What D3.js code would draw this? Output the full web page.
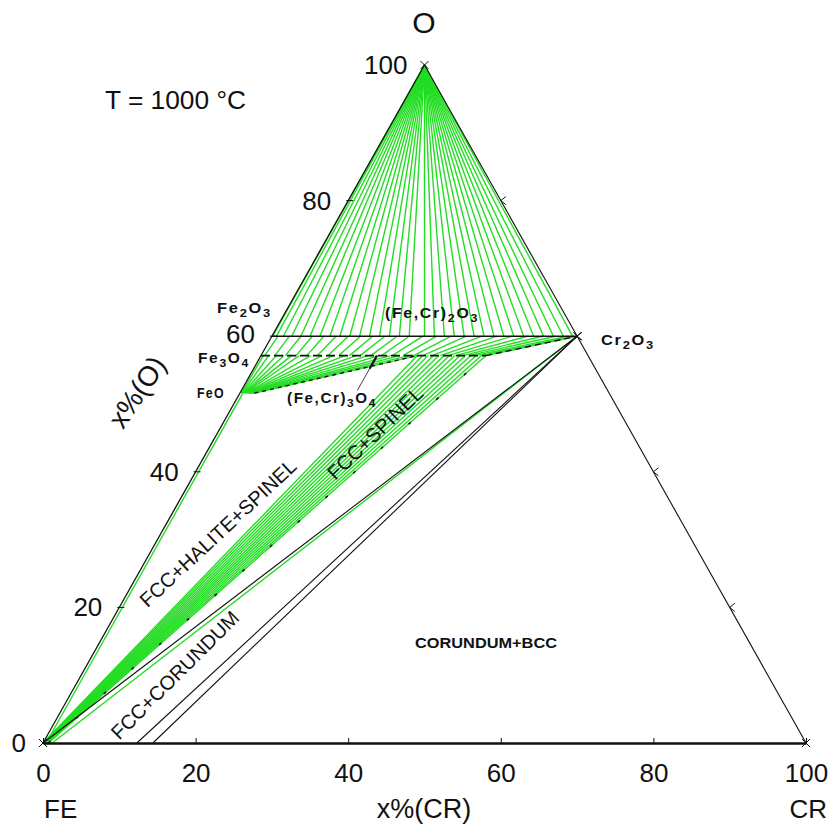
<!DOCTYPE html>
<html><head><meta charset="utf-8">
<script src="https://cdn.jsdelivr.net/npm/d3@7"></script>
<style>
html,body{margin:0;padding:0;background:#fff}
svg text{font-family:"Liberation Sans",Arial,sans-serif;fill:#111}
</style>
</head><body>
<svg id="chart" width="831" height="825"></svg>
<script>
// ---------------- data (compositions in mole %, Cr and O) ----------------
const temperatureLabel = "T = 1000 °C";
const oTicks = [0, 20, 40, 60, 80, 100];
const crTicks = [0, 20, 40, 60, 80, 100];
const oCorundum = 60;      // (Fe,Cr)2O3
const oSpinel = 57.14;     // (Fe,Cr)3O4
const oHalite = 51.6;      // FeO
const crCr2O3 = 40;        // Cr2O3 end of corundum line
const spinelCrMax = 29.5;  // spinel in FCC+SPINEL+CORUNDUM
const spinelCrS1 = 20.5;   // spinel in FCC+HALITE+SPINEL
const haliteCrMax = 1.9;   // halite in FCC+HALITE+SPINEL
const fccSpinelCrMax = 0.7;
const fccBccCr = [12.3, 14.4]; // FCC / BCC in equilibrium with corundum
// corundum + gas tie lines: Cr% of corundum at O = 60 (fan from O corner)
const corundumGasTies = [0.1, 0.6, 1.5, 2.6, 3.8, 5.0, 6.3, 7.6, 8.9, 10.2, 11.5, 12.8, 14.1, 15.4,
  16.7, 18.0, 20.0, 21.3, 22.6, 23.9, 25.2, 26.5, 27.8, 29.1, 30.4, 31.7, 33.0, 34.3, 35.6, 36.9, 38.2, 39.4];
// spinel + corundum tie lines: [Cr% spinel, Cr% corundum]
const spinelCorundumTies = [[0.5,0.8],[1.8,2.3],[3.2,3.8],[4.6,5.3],[6,6.8],[7.4,8.4],[8.8,10],[10.2,11.6],
  [11.6,13.2],[13,14.8],[14.4,16.4],[15.8,18],[17.2,19.8],[18.6,21.6],[20,23.5],[21.2,25.5],[22.4,27.5],
  [23.5,29.5],[24.5,31.5],[25.5,33.5],[26.4,35.5],[27.2,37.2],[28,38.8],[28.8,39.6],[29.5,40]];
// halite + spinel tie lines: [Cr% halite, Cr% spinel]
const haliteSpinelTies = [[0.2,0.3],[0.3,1],[0.4,2],[0.5,3],[0.6,4],[0.7,5],[0.8,6.5],[0.9,8],[1,9.5],
  [1.1,11],[1.2,12.5],[1.3,14],[1.4,15.5],[1.5,17],[1.6,18.2],[1.75,19.4],[1.9,20.5]];
// FCC + spinel tie lines: [Cr% fcc, Cr% spinel]
const fccSpinelTies = [[0,20.5],[0.05,21.2],[0.1,21.9],[0.15,22.6],[0.2,23.3],[0.25,24],[0.3,24.7],
  [0.35,25.4],[0.4,26.1],[0.45,26.8],[0.5,27.5],[0.55,28.2],[0.6,28.9],[0.7,29.5]];
// FCC + corundum tie lines: Cr% of fcc (to Cr2O3)
const fccCorundumTies = [1.2];
// FCC + halite tie line along the Fe-O edge: Cr% fcc / halite
const fccHaliteTies = [0.4];

// ---------------- scales ----------------
const svg = d3.select("#chart");
const xs = d3.scaleLinear().domain([0, 100]).range([43, 806]);
const ys = d3.scaleLinear().domain([0, 100]).range([743, 65]);
const P = (cr, o) => [xs(cr + o / 2), ys(o)];
const line = d3.line();
const GREEN = "#22dd22";

const gGreen = svg.append("g").attr("fill", "none").attr("stroke", GREEN).attr("stroke-width", 1.4);
function seg(g, a, b) { return g.append("path").attr("d", line([P(a[0], a[1]), P(b[0], b[1])])); }

corundumGasTies.forEach(c => seg(gGreen, [0, 100], [c, oCorundum]));
spinelCorundumTies.forEach(([s, c]) => seg(gGreen, [s, oSpinel], [c, oCorundum]));
haliteSpinelTies.forEach(([h, s]) => seg(gGreen, [h, oHalite], [s, oSpinel]));
fccSpinelTies.forEach(([f, s]) => seg(gGreen, [f, 0], [s, oSpinel]));
fccCorundumTies.forEach(f => seg(gGreen, [f, 0], [crCr2O3, oCorundum]));
fccHaliteTies.forEach(f => seg(gGreen, [f, 0], [f, oHalite]));

// ---------------- black phase boundaries ----------------
const gB = svg.append("g").attr("fill", "none").attr("stroke", "#111");
seg(gB, [0, oCorundum], [crCr2O3, oCorundum]).attr("stroke-width", 1.4);
seg(gB, [0, oSpinel], [spinelCrMax, oSpinel]).attr("stroke-width", 1.8).attr("stroke-dasharray", "9,4");
seg(gB, [haliteCrMax, oHalite], [spinelCrS1, oSpinel]).attr("stroke-width", 1.4).attr("stroke-dasharray", "4,4");
seg(gB, [spinelCrMax, oSpinel], [crCr2O3, oCorundum]).attr("stroke-width", 1.4).attr("stroke-dasharray", "6,4");
seg(gB, [fccSpinelCrMax, 0], [spinelCrMax, oSpinel]).attr("stroke-width", 1.6).attr("stroke-dasharray", "3,34");
seg(gB, [0, 0], [crCr2O3, oCorundum]).attr("stroke-width", 1.1);
fccBccCr.forEach(c => seg(gB, [c, 0], [crCr2O3, oCorundum]).attr("stroke-width", 1.1));
// pointer for spinel label
seg(gB, [15.2, oSpinel], [15.2, 55.2]).attr("stroke-width", 2.2);
seg(gB, [15.2, 55.2], [15.2, 52.0]).attr("stroke-width", 0.8);

// ---------------- triangle frame ----------------
const gF = svg.append("g").attr("fill", "none").attr("stroke", "#111");
seg(gF, [0, 0], [0, 100]).attr("stroke-width", 1.3);
seg(gF, [100, 0], [0, 100]).attr("stroke-width", 1.1);

// base axis (x%(CR))
const axis = d3.axisBottom(xs).tickValues(crTicks).tickSize(-5).tickSizeOuter(0).tickPadding(21);
const gAx = svg.append("g").attr("transform", `translate(0,${ys(0)})`).call(axis);
gAx.select(".domain").attr("stroke", "#111").attr("stroke-width", 2.6);
gAx.selectAll(".tick line").attr("stroke", "#111").attr("stroke-width", 1);
gAx.selectAll(".tick text").attr("font-size", 26).attr("font-family", null).attr("fill", "#111");

// left edge ticks and labels (x%(O))
const gT = svg.append("g").attr("stroke", "#111").attr("stroke-width", 1).attr("fill", "none");
oTicks.forEach(o => {
  const [x, y] = P(0, o);
  if (o > 0 && o < 100) gT.append("line").attr("x1", x - 2).attr("x2", x + 5).attr("y1", y).attr("y2", y);
  svg.append("text").attr("x", x - 17).attr("y", y + (o === 60 ? 7 : 9)).attr("text-anchor", "end")
    .attr("font-size", 26).text(o);
});
// right edge ticks "<"
oTicks.filter(o => o > 0 && o < 100).forEach(o => {
  const [x, y] = P(100 - o, o);
  gT.append("path").attr("d", `M${x + 5},${y - 4}L${x},${y}L${x + 5},${y + 4}`);
});
// corner marks
[[0, 100], [0, 0], [100, 0], [crCr2O3, oCorundum]].forEach(([c, o]) => {
  const [x, y] = P(c, o);
  gT.append("path").attr("d", `M${x - 4},${y - 4}L${x + 4},${y + 4}M${x + 4},${y - 4}L${x - 4},${y + 4}`);
});

// ---------------- texts ----------------
svg.append("text").attr("x", 424).attr("y", 33).attr("text-anchor", "middle").attr("font-size", 30).text("O");
svg.append("text").attr("x", 105).attr("y", 109).attr("font-size", 25)
  .attr("textLength", 141).attr("lengthAdjust", "spacingAndGlyphs").text(temperatureLabel);
svg.append("text").attr("x", 44).attr("y", 818).attr("font-size", 26).text("FE");
svg.append("text").attr("x", 424).attr("y", 818).attr("text-anchor", "middle").attr("font-size", 27).text("x%(CR)");
svg.append("text").attr("x", 827).attr("y", 818).attr("text-anchor", "end").attr("font-size", 26).text("CR");
svg.append("text").attr("transform", "translate(137,392) rotate(-56)").attr("text-anchor", "middle")
  .attr("dy", "0.35em").attr("font-size", 28).text("x%(O)");

function chem(x, y, parts, len) {
  const t = svg.append("text").attr("x", x).attr("y", y).attr("font-size", 14).attr("font-weight", "bold")
    .attr("letter-spacing", 1.5);
  parts.forEach(([s, sub]) => {
    const ts = t.append("tspan").text(s);
    if (sub) ts.attr("font-size", 11).attr("dy", 4); else ts.attr("dy", t.selectAll("tspan").size() > 1 ? -4 : 0);
  });
  if (len) t.attr("textLength", len).attr("lengthAdjust", "spacingAndGlyphs");
  return t;
}
chem(217, 313, [["Fe"], ["2", 1], ["O"], ["3", 1]], 55);
chem(198, 363, [["Fe"], ["3", 1], ["O"], ["4", 1]], 52);
chem(197, 398, [["FeO"]], 28);
chem(385, 318, [["(Fe,Cr)"], ["2", 1], ["O"], ["3", 1]], 94);
chem(287, 403, [["(Fe,Cr)"], ["3", 1], ["O"], ["4", 1]], 90);
chem(601, 345, [["Cr"], ["2", 1], ["O"], ["3", 1]], 54);

function phase(x, y, ang, txt, size) {
  svg.append("text").attr("transform", `translate(${x},${y}) rotate(${ang})`).attr("text-anchor", "middle")
    .attr("dy", "0.35em").attr("font-size", size).text(txt);
}
phase(218, 533, -43, "FCC+HALITE+SPINEL", 20);
phase(375, 433, -44, "FCC+SPINEL", 20);
phase(175, 675, -45, "FCC+CORUNDUM", 20);
svg.append("text").attr("x", 415).attr("y", 648).attr("font-size", 15).attr("font-weight", "bold")
  .attr("textLength", 142).attr("lengthAdjust", "spacingAndGlyphs").attr("fill", "#333").text("CORUNDUM+BCC");
</script>
</body></html>
